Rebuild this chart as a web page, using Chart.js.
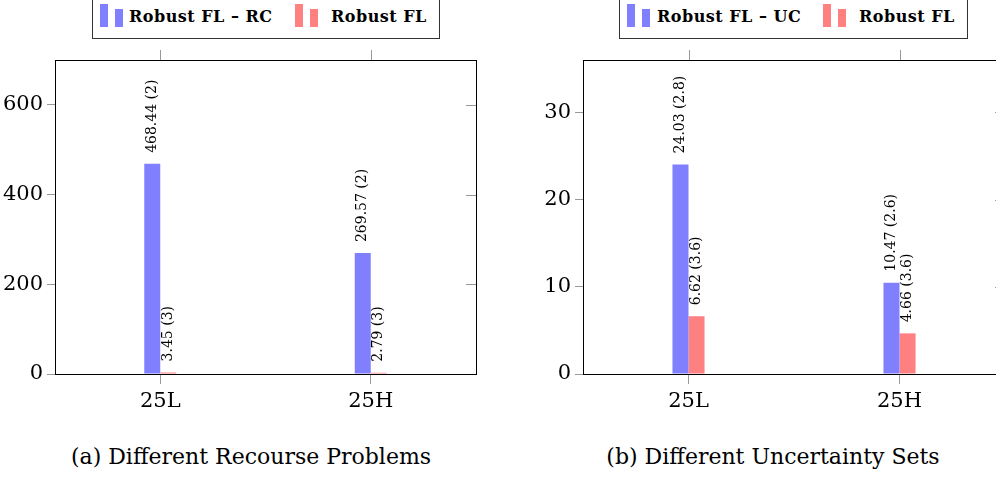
<!DOCTYPE html>
<html>
<head>
<meta charset="utf-8">
<script src="https://cdn.jsdelivr.net/npm/chart.js@4"></script>
<style>
html,body{margin:0;padding:0;background:#fff;width:996px;height:478px;overflow:hidden;position:relative;}
.box{position:absolute;}
.legend{position:absolute;border:1px solid #333;background:#fff;height:43px;top:-6px;}
.icon{position:absolute;width:8px;bottom:11px;}
.txt{position:absolute;top:12px;font:bold 16px "DejaVu Serif","Liberation Serif","Times New Roman",serif;letter-spacing:0.5px;white-space:nowrap;}
.caption{position:absolute;top:444px;font:22px "DejaVu Serif","Liberation Serif","Times New Roman",serif;white-space:nowrap;transform:translateX(-50%);}
</style>
</head>
<body>

<div class="box" style="left:0;top:0;width:490px;height:430px;"><canvas id="chartA"></canvas></div>
<div class="box" style="left:540px;top:0;width:480px;height:430px;"><canvas id="chartB"></canvas></div>

<div class="legend" id="legendA" style="left:92px;width:346px;"></div>
<div class="legend" id="legendB" style="left:619px;width:347px;"></div>

<div class="caption" style="left:251px;">(a) Different Recourse Problems</div>
<div class="caption" style="left:773px;">(b) Different Uncertainty Sets</div>

<script>

// ===============================
// Data
// ===============================

const categories=['25L','25H'];

const labelsA=['Robust FL \u2013 RC','Robust FL'];
const rcValues=[468.44,269.57];
const rcParen=['2','2'];
const flValuesA=[3.45,2.79];
const flParenA=['3','3'];
const yTicksA=[0,200,400,600];

const labelsB=['Robust FL \u2013 UC','Robust FL'];
const ucValues=[24.03,10.47];
const ucParen=['2.8','2.6'];
const flValuesB=[6.62,4.66];
const flParenB=['3.6','3.6'];
const yTicksB=[0,10,20,30];

const blue='#8080ff';
const red='#ff8080';
const serif='"DejaVu Serif","Liberation Serif","Times New Roman",serif';


// ===============================
// Plugins: frame, mirrored ticks, bar labels
// ===============================

const framePlugin={
id:'frame',
afterDraw(chart){
const ctx=chart.ctx;
const a=chart.chartArea;
ctx.save();
ctx.strokeStyle='#999';
ctx.lineWidth=1;
chart.scales.x.getTicks().forEach((t,i)=>{
const x=Math.round(chart.scales.x.getPixelForTick(i))+0.5;
ctx.beginPath();ctx.moveTo(x,a.top-10);ctx.lineTo(x,a.top);ctx.stroke();
});
chart.scales.y.getTicks().forEach(t=>{
const y=Math.round(chart.scales.y.getPixelForValue(t.value))+0.5;
if(t.value===0)return;
ctx.beginPath();ctx.moveTo(a.right-10,y);ctx.lineTo(a.right,y);ctx.stroke();
});
ctx.strokeStyle='#000';
ctx.strokeRect(Math.round(a.left)+0.5,Math.round(a.top)+0.5,Math.round(a.right-a.left),Math.round(a.bottom-a.top));
ctx.restore();
}
};

const barLabelPlugin={
id:'barLabels',
afterDatasetsDraw(chart){
const ctx=chart.ctx;
ctx.save();
ctx.fillStyle='#000';
ctx.font='14px '+serif;
ctx.textAlign='left';
ctx.textBaseline='middle';
chart.data.datasets.forEach((ds,i)=>{
chart.getDatasetMeta(i).data.forEach((bar,j)=>{
const txt=ds.data[j].toFixed(2)+' ('+ds.paren[j]+')';
ctx.save();
ctx.translate(bar.x,bar.y-11);
ctx.rotate(-Math.PI/2);
ctx.fillText(txt,0,0);
ctx.restore();
});
});
ctx.restore();
}
};


// ===============================
// Chart builder
// ===============================

function makeChart(id,names,valsA,parenA,valsB,parenB,yMax,yTicks,yWidth,padRight){

return new Chart(document.getElementById(id),{

type:'bar',

data:{
labels:categories,
datasets:[
{label:names[0],data:valsA,paren:parenA,backgroundColor:blue},
{label:names[1],data:valsB,paren:parenB,backgroundColor:red}
]
},

options:{
responsive:true,
maintainAspectRatio:false,
animation:false,
events:[],
layout:{padding:{top:60,right:padRight,left:0,bottom:0}},
datasets:{bar:{categoryPercentage:0.152,barPercentage:1}},
plugins:{legend:{display:false},tooltip:{enabled:false}},
scales:{
x:{
offset:true,
grid:{offset:false,drawOnChartArea:false,tickLength:10,color:'#999'},
border:{color:'#000'},
ticks:{color:'#000',font:{family:serif,size:21},padding:5},
afterFit(s){s.height=56;}
},
y:{
min:0,
max:yMax,
grid:{drawOnChartArea:false,tickLength:8,color:'#999'},
border:{color:'#000'},
ticks:{color:'#000',font:{family:serif,size:21},padding:4},
afterBuildTicks(s){s.ticks=yTicks.map(v=>({value:v}));},
afterFit(s){s.width=yWidth;}
}
}
},

plugins:[framePlugin,barLabelPlugin]

});

}

makeChart('chartA',labelsA,rcValues,rcParen,flValuesA,flParenA,700,yTicksA,55,14);
makeChart('chartB',labelsB,ucValues,ucParen,flValuesB,flParenB,36,yTicksB,43,15);


// ===============================
// Legends (two-bar icons like pgfplots)
// ===============================

function makeLegend(id,names,pos){
const el=document.getElementById(id);
[blue,red].forEach((c,i)=>{
const p=pos[i];
el.innerHTML+=
'<div class="icon" style="left:'+p[0]+'px;height:23px;background:'+c+'"></div>'+
'<div class="icon" style="left:'+(p[0]+15)+'px;height:18px;background:'+c+'"></div>'+
'<div class="txt" style="left:'+p[1]+'px">'+names[i]+'</div>';
});
}

makeLegend('legendA',labelsA,[[7,36],[202,238]]);
makeLegend('legendB',labelsB,[[7,37],[203,239]]);

</script>
</body>
</html>
